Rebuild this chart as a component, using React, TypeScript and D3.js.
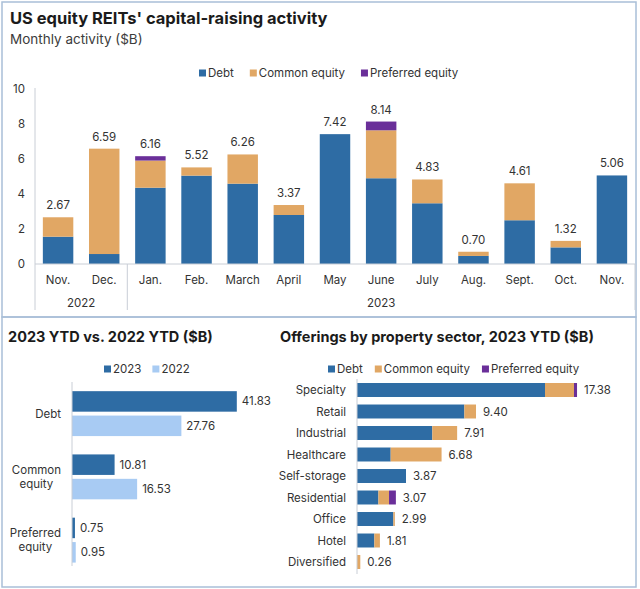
import React from "react";
import * as d3 from "d3";

// ---------- Data ----------
const months = ["Nov.", "Dec.", "Jan.", "Feb.", "March", "April", "May", "June", "July", "Aug.", "Sept.", "Oct.", "Nov."];
const monthKeys = months.map((m, i) => `${m}-${i}`);
const monthYears = ["2022", "2022", "2023", "2023", "2023", "2023", "2023", "2023", "2023", "2023", "2023", "2023", "2023"];
const monthDebt = [1.56, 0.57, 4.36, 5.05, 4.59, 2.80, 7.42, 4.90, 3.47, 0.46, 2.50, 0.95, 5.06];
const monthCommon = [1.11, 6.02, 1.55, 0.47, 1.67, 0.57, 0, 2.74, 1.36, 0.24, 2.11, 0.37, 0];
const monthPreferred = [0, 0, 0.25, 0, 0, 0, 0, 0.50, 0, 0, 0, 0, 0];
const monthTotals = ["2.67", "6.59", "6.16", "5.52", "6.26", "3.37", "7.42", "8.14", "4.83", "0.70", "4.61", "1.32", "5.06"];
const yTicks = [0, 2, 4, 6, 8, 10];

const ytdTypes = ["Debt", "Common equity", "Preferred equity"];
const ytdTypeLines = [["Debt"], ["Common", "equity"], ["Preferred", "equity"]];
const ytdYears = ["2023", "2022"];
const ytd2023 = [41.83, 10.81, 0.75];
const ytd2022 = [27.76, 16.53, 0.95];

const sectors = ["Specialty", "Retail", "Industrial", "Healthcare", "Self-storage", "Residential", "Office", "Hotel", "Diversified"];
const sectorDebt = [14.85, 8.48, 5.95, 2.66, 3.87, 1.69, 2.87, 1.37, 0];
const sectorCommon = [2.29, 0.92, 1.96, 4.02, 0, 0.84, 0.12, 0.44, 0.26];
const sectorPreferred = [0.24, 0, 0, 0, 0, 0.54, 0, 0, 0];
const sectorTotals = ["17.38", "9.40", "7.91", "6.68", "3.87", "3.07", "2.99", "1.81", "0.26"];

const seriesNames = ["Debt", "Common equity", "Preferred equity"];

// ---------- Style ----------
const FONT = "Inter, 'Noto Sans', sans-serif";
const C_DEBT = "#2e6ca4";
const C_COMMON = "#e1a764";
const C_PREF = "#6a2f99";
const C_2022 = "#a8cbf3";
const seriesColors = [C_DEBT, C_COMMON, C_PREF];
const TEXT = "#333333";
const TITLE = "#1b1b1b";
const AXIS = "#c9ced6";
const BORDER = "#a9bfd8";
const LABEL_SIZE = 11.5;

let _ctx: CanvasRenderingContext2D | null = null;
function measure(text: string, size: number, weight = 400): number {
  if (!_ctx) _ctx = document.createElement("canvas").getContext("2d");
  if (!_ctx) return text.length * size * 0.55;
  _ctx.font = `${weight} ${size}px ${FONT}`;
  return _ctx.measureText(text).width;
}

function Legend({ x, y, items, colors, gap }: { x: number; y: number; items: string[]; colors: string[]; gap: number }) {
  let cx = x;
  const nodes: React.ReactNode[] = [];
  items.forEach((it, i) => {
    nodes.push(<rect key={"r" + i} x={cx} y={y - 3.5} width={7} height={7} fill={colors[i]} />);
    nodes.push(
      <text key={"t" + i} x={cx + 9} y={y} dominantBaseline="central" fontSize={LABEL_SIZE} fill={TEXT}>
        {it}
      </text>
    );
    cx += 9 + measure(it, LABEL_SIZE) + gap;
  });
  return <g>{nodes}</g>;
}

function TopChart() {
  const x = d3.scaleBand<string>().domain(monthKeys).range([35, 635]).paddingInner(0.34).paddingOuter(0.17);
  const y = d3.scaleLinear().domain([0, 10]).range([264, 89]);
  const stackData = monthKeys.map((k, i) => ({ key: k, s0: monthDebt[i], s1: monthCommon[i], s2: monthPreferred[i] }));
  const stack = d3.stack<any>().keys(["s0", "s1", "s2"])(stackData);
  const step = x.step();
  const sepX = 35 + step * 2;
  return (
    <g>
      <text x={10} y={24} fontSize={16.5} fontWeight={700} fill={TITLE}>US equity REITs' capital-raising activity</text>
      <text x={10} y={44} fontSize={13.5} fill="#3c3c3c">Monthly activity ($B)</text>
      <Legend x={199} y={73} items={seriesNames} colors={seriesColors} gap={16} />
      {yTicks.map((t) => (
        <text key={t} x={25} y={y(t)} textAnchor="end" dominantBaseline="central" fontSize={LABEL_SIZE} fill={TEXT}>
          {t}
        </text>
      ))}
      {stack.map((layer, li) => (
        <g key={li} fill={seriesColors[li]}>
          {layer.map((d: any, i: number) =>
            d[1] - d[0] > 0 ? (
              <rect key={i} x={x(monthKeys[i])} y={y(d[1])} width={x.bandwidth()} height={y(d[0]) - y(d[1])} />
            ) : null
          )}
        </g>
      ))}
      {monthKeys.map((k, i) => {
        const tot = monthDebt[i] + monthCommon[i] + monthPreferred[i];
        return (
          <text key={k} x={(x(k) as number) + x.bandwidth() / 2} y={y(tot) - 8} textAnchor="middle" fontSize={LABEL_SIZE} fill={TEXT}>
            {monthTotals[i]}
          </text>
        );
      })}
      <line x1={35} x2={635} y1={y(0)} y2={y(0)} stroke={AXIS} />
      <line x1={35} x2={35} y1={88} y2={310} stroke={AXIS} />
      <line x1={sepX} x2={sepX} y1={y(0)} y2={310} stroke={AXIS} />
      <line x1={635} x2={635} y1={y(0)} y2={310} stroke={AXIS} />
      {monthKeys.map((k, i) => (
        <text key={k} x={(x(k) as number) + x.bandwidth() / 2} y={284} textAnchor="middle" fontSize={LABEL_SIZE} fill={TEXT}>
          {months[i]}
        </text>
      ))}
      <text x={(35 + sepX) / 2} y={307} textAnchor="middle" fontSize={LABEL_SIZE} fill={TEXT}>{monthYears[0]}</text>
      <text x={(sepX + 635) / 2} y={307} textAnchor="middle" fontSize={LABEL_SIZE} fill={TEXT}>{monthYears[2]}</text>
    </g>
  );
}

function YtdChart() {
  const y0 = d3.scaleBand<string>().domain(ytdTypes).range([382, 571.75]).paddingInner(0.29).paddingOuter(0.145);
  const y1 = d3.scaleBand<string>().domain(ytdYears).range([0, y0.bandwidth()]).paddingInner(0.16);
  const x = d3.scaleLinear().domain([0, 50]).range([72, 269]);
  const vals = [ytd2023, ytd2022];
  const cols = [C_DEBT, C_2022];
  return (
    <g>
      <text x={8} y={342} fontSize={14.5} fontWeight={700} fill={TITLE}>2023 YTD vs. 2022 YTD ($B)</text>
      <Legend x={104} y={369} items={ytdYears} colors={cols} gap={11} />
      {ytdTypes.map((t, ti) => {
        const gy = y0(t) as number;
        const lines = ytdTypeLines[ti];
        const w = Math.max(...lines.map((l) => measure(l, LABEL_SIZE)));
        const cx = 61 - w / 2;
        const cy = gy + y0.bandwidth() / 2;
        return (
          <g key={t}>
            {lines.map((l, li) => (
              <text key={li} x={cx} y={cy + (li - (lines.length - 1) / 2) * 13.5} textAnchor="middle" dominantBaseline="central" fontSize={LABEL_SIZE} fill={TEXT}>
                {l}
              </text>
            ))}
            {ytdYears.map((yr, yi) => {
              const by = gy + (y1(yr) as number);
              const v = vals[yi][ti];
              return (
                <g key={yr}>
                  <rect x={x(0)} y={by} width={x(v) - x(0)} height={y1.bandwidth()} fill={cols[yi]} />
                  <text x={x(v) + 5} y={by + y1.bandwidth() / 2} dominantBaseline="central" fontSize={LABEL_SIZE} fill={TEXT}>
                    {v.toFixed(2)}
                  </text>
                </g>
              );
            })}
          </g>
        );
      })}
      <line x1={72} x2={72} y1={382} y2={566} stroke={AXIS} />
    </g>
  );
}

function SectorChart() {
  const y = d3.scaleBand<string>().domain(sectors).range([379.25, 572.75]).paddingInner(0.35).paddingOuter(0.175);
  const x = d3.scaleLinear().domain([0, 20]).range([357, 610.2]);
  const data = sectors.map((s, i) => ({ key: s, s0: sectorDebt[i], s1: sectorCommon[i], s2: sectorPreferred[i] }));
  const stack = d3.stack<any>().keys(["s0", "s1", "s2"])(data);
  return (
    <g>
      <text x={280} y={342} fontSize={14.5} fontWeight={700} fill={TITLE}>Offerings by property sector, 2023 YTD ($B)</text>
      <Legend x={328} y={369} items={seriesNames} colors={seriesColors} gap={12} />
      {stack.map((layer, li) => (
        <g key={li} fill={seriesColors[li]}>
          {layer.map((d: any, i: number) =>
            d[1] - d[0] > 0 ? (
              <rect key={i} x={x(d[0])} y={y(sectors[i])} width={x(d[1]) - x(d[0])} height={y.bandwidth()} />
            ) : null
          )}
        </g>
      ))}
      {sectors.map((s, i) => {
        const tot = sectorDebt[i] + sectorCommon[i] + sectorPreferred[i];
        const cy = (y(s) as number) + y.bandwidth() / 2;
        return (
          <g key={s}>
            <text x={346} y={cy} textAnchor="end" dominantBaseline="central" fontSize={LABEL_SIZE} fill={TEXT}>{s}</text>
            <text x={x(tot) + 7} y={cy} dominantBaseline="central" fontSize={LABEL_SIZE} fill={TEXT}>{sectorTotals[i]}</text>
          </g>
        );
      })}
      <line x1={357} x2={357} y1={379} y2={574} stroke={AXIS} />
    </g>
  );
}

export default function App() {
  return (
    <svg
      width={640}
      height={589}
      viewBox="0 0 640 589"
      style={{ position: "absolute", left: 0, top: 0, background: "#ffffff" }}
      fontFamily={FONT}
    >
      <rect x={0} y={0} width={640} height={589} fill="#ffffff" />
      <rect x={2} y={2} width={634} height={315} fill="none" stroke={BORDER} strokeWidth={1.5} />
      <rect x={2} y={317} width={634} height={270} fill="none" stroke={BORDER} strokeWidth={1.5} />
      <TopChart />
      <YtdChart />
      <SectorChart />
    </svg>
  );
}
